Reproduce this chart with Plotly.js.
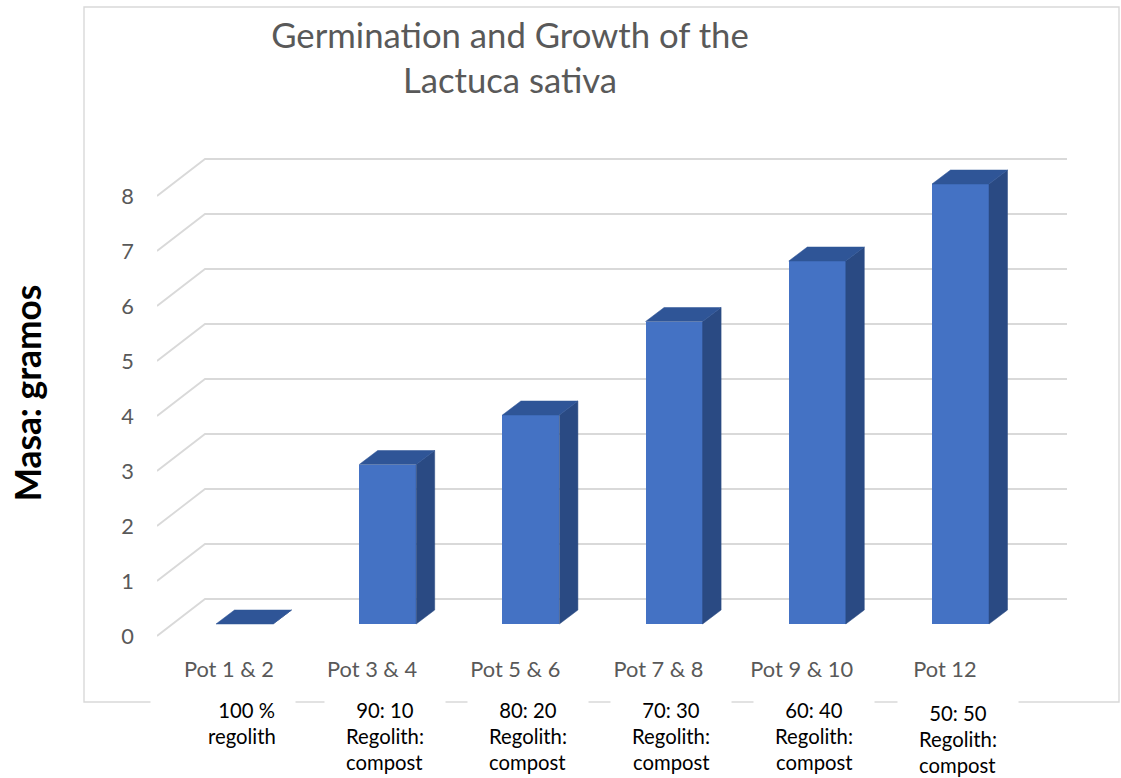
<!DOCTYPE html>
<html>
<head>
<meta charset="utf-8">
<script src="https://cdn.plot.ly/plotly-3.0.1.min.js"></script>
<style>html,body{margin:0;padding:0;background:#fff}#chart{width:1121px;height:778px}</style>
</head>
<body>
<div id="chart"></div>
<script>
// ---------------- data ----------------
const potLabels = ["Pot 1 & 2", "Pot 3 & 4", "Pot 5 & 6", "Pot 7 & 8", "Pot 9 & 10", "Pot 12"];
const mixLabels = [
  ["100 %", "regolith"],
  ["90: 10", "Regolith:", "compost"],
  ["80: 20", "Regolith:", "compost"],
  ["70: 30", "Regolith:", "compost"],
  ["60: 40", "Regolith:", "compost"],
  ["50: 50", "Regolith:", "compost"]
];
const masaGramos = [0, 2.9, 3.8, 5.5, 6.6, 8.0];
const yTickValues = [0, 1, 2, 3, 4, 5, 6, 7, 8];
const titleLines = ["Germination and Growth of the", "Lactuca sativa"];
const yTitleText = "Masa: gramos";

// ---------------- geometry / style ----------------
const W = 1121, H = 778;
const L = 157, R = 1067, T = 140, B = 646;         // plot area in pixels
const c0 = 244.5, step = 143.2;                     // bar centre px, px per category
const zeroPx = 624, pxPerUnit = 55;                 // bar front plane
const xr = [(L - c0) / step, (R - c0) / step];
const yr = [-(B - zeroPx) / pxPerUnit, (zeroPx - T) / pxPerUnit];
const dX = px => px / step;
const dY = px => px / pxPerUnit;                    // px upward -> data units
const barWidth = 0.398;
const barDepth = {x: dX(18.5), y: dY(14)};
const labelPlane = {x: dX(-15.6), y: dY(-12)};
const backWall = {x: dX(32.4), y: dY(25)};
const wallStartX = xr[0];
const wallCornerX = wallStartX + dX(48);

const FRONT = '#4472C4', TOP = '#2f5597', SIDE = '#2a4a83';
const GRID = '#d9d9d9', GRAY = '#595959';
const FONT = 'Lato';

function fitSize(text, weight, target) {
  const ctx = document.createElement('canvas').getContext('2d');
  ctx.font = weight + ' 100px ' + FONT;
  return Math.round(1000 * target / ctx.measureText(text).width) / 10;
}
const titleSize = fitSize(titleLines[0], 'normal', 478);
const potSize = fitSize(potLabels[0], 'normal', 90);
const mixSize = fitSize("Regolith:", 'normal', 78);
const yTitleSize = fitSize(yTitleText, 'bold', 217);

const px2paperX = px => (px - L) / (R - L);
const px2paperY = py => (B - py) / (B - T);

// ---------------- traces ----------------
const idx = masaGramos.map((_, i) => i);
const traces = [];

idx.forEach(i => {
  const v = masaGramos[i], hw = barWidth / 2;
  traces.push({
    type: 'scatter', mode: 'lines', fill: 'toself', fillcolor: SIDE,
    line: {color: SIDE, width: 0.5}, hoverinfo: 'skip', showlegend: false,
    x: [i + hw, i + hw + barDepth.x, i + hw + barDepth.x, i + hw, i + hw],
    y: [0, barDepth.y, v + barDepth.y, v, 0]
  });
  traces.push({
    type: 'scatter', mode: 'lines', fill: 'toself', fillcolor: TOP,
    line: {color: TOP, width: 0.5}, hoverinfo: 'skip', showlegend: false,
    x: [i - hw, i + hw, i + hw + barDepth.x, i - hw + barDepth.x, i - hw],
    y: [v, v, v + barDepth.y, v + barDepth.y, v]
  });
});

traces.unshift({
  type: 'bar', x: idx, y: masaGramos, width: barWidth,
  marker: {color: FRONT, line: {width: 0}}, hoverinfo: 'skip', showlegend: false
});

// invisible helper so the label axis (front plane) is drawn
traces.push({
  type: 'scatter', mode: 'markers', x: yTickValues.map(() => xr[0]), y: yTickValues,
  yaxis: 'y2', marker: {opacity: 0}, hoverinfo: 'skip', showlegend: false
});

// ---------------- shapes ----------------
const shapes = [];
yTickValues.forEach(v => {
  const p1 = [wallStartX, v + labelPlane.y];
  const p2 = [wallCornerX, v + backWall.y];
  const p3 = [xr[1], v + backWall.y];
  shapes.push({
    type: 'path', xref: 'x', yref: 'y', layer: 'below',
    path: `M ${p1[0]},${p1[1]} L ${p2[0]},${p2[1]} L ${p3[0]},${p3[1]}`,
    line: {color: GRID, width: 1.8}
  });
});
shapes.push({
  type: 'rect', xref: 'paper', yref: 'paper', layer: 'below',
  x0: px2paperX(84), x1: px2paperX(1119), y0: px2paperY(702), y1: px2paperY(7),
  line: {color: GRID, width: 1.4}, fillcolor: 'rgba(0,0,0,0)'
});

// ---------------- annotations (second label row) ----------------
const annotations = [];
mixLabels.forEach((lines, i) => {
  lines.forEach((txt, j) => {
    const yPx = 710 + 26 * j + (i === mixLabels.length - 1 ? 3 : 0);
    const a = {
      text: txt, xref: 'x', yref: 'paper', x: i, y: px2paperY(yPx),
      yanchor: 'middle', showarrow: false,
      font: {family: FONT, size: mixSize, color: '#000000'}
    };
    if (i === 0) {
      a.xanchor = 'right';
      if (j === 0) {
        a.xshift = 296 - c0; a.width = 104; a.borderpad = 20; a.align = 'right';
        a.bgcolor = '#ffffff';
      } else {
        a.xshift = 278 - c0;
      }
    } else {
      a.xanchor = 'center'; a.xshift = -3;
      if (j === 0) { a.width = 114; a.borderpad = 3; a.bgcolor = '#ffffff'; }
    }
    annotations.push(a);
  });
});

// ---------------- layout ----------------
const layout = {
  width: W, height: H,
  margin: {l: L, r: W - R, t: T, b: H - B, pad: 0},
  paper_bgcolor: '#ffffff', plot_bgcolor: 'rgba(0,0,0,0)',
  showlegend: false,
  font: {family: FONT, color: GRAY},
  title: {
    text: titleLines.join('<br>'),
    font: {family: FONT, size: titleSize, color: GRAY},
    xref: 'container', x: 510 / W, xanchor: 'center',
    yref: 'container', y: 1 - 48 / H, yanchor: 'top'
  },
  xaxis: {
    range: xr, showgrid: false, zeroline: false, showline: false, ticks: '',
    tickmode: 'array', tickvals: idx.map(i => i + labelPlane.x), ticktext: potLabels,
    tickfont: {family: FONT, size: potSize, color: GRAY},
    ticklabelstandoff: 8, fixedrange: true
  },
  yaxis: {
    range: yr, showgrid: false, zeroline: false, showline: false, ticks: '',
    showticklabels: false, fixedrange: true
  },
  yaxis2: {
    overlaying: 'y', side: 'left',
    range: [yr[0] - labelPlane.y, yr[1] - labelPlane.y],
    showgrid: false, zeroline: false, showline: false, ticks: '',
    tickmode: 'array', tickvals: yTickValues,
    tickfont: {family: FONT, size: potSize, color: GRAY},
    ticklabelstandoff: 22, automargin: false, fixedrange: true,
    title: {
      text: yTitleText, standoff: 68,
      font: {family: FONT, size: yTitleSize, color: '#000000', weight: 'bold'}
    }
  },
  bargap: 0,
  shapes: shapes,
  annotations: annotations
};

Plotly.newPlot('chart', traces, layout, {staticPlot: true, displayModeBar: false});
</script>
</body>
</html>
